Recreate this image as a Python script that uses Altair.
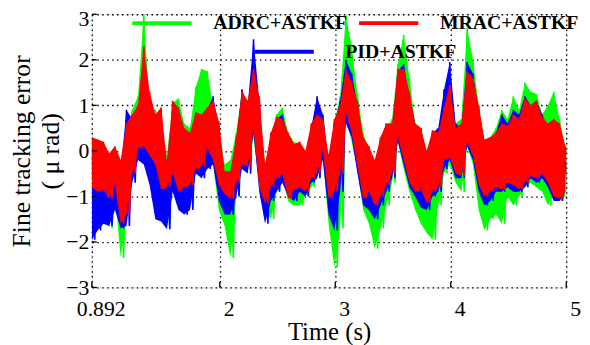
import altair as alt
import pandas as pd

# time bins (s): 0.892 + 0.05*k, k = 0..82 ; each bin gives an upper and a lower reading
t0 = 0.892
step = 0.05

red_hi = [0.3, 0.25, 0.2, -0.05, 0.1, -0.2, 0.6, 0.8, 1.0, 2.3, 1.3, 0.8, 0.95, -0.25, 1.1, 0.95, 0.5, 0.4, 0.85, 0.8,
          0.95, 1.1, 0.65, -0.45, -0.45, 0.3, 1.3, 1.1, 1.8, 1.2, -0.3, 0.4, 0.75, 0.7, 0.4, 0.15, 0.2, 0.0, 0.6, 0.8,
          0.7, -0.1, 0.7, 1.0, 1.8, 1.5, 1.1, 0.3, 0.1, -0.2, 0.3, 0.6, 0.6, 1.8, 1.8, 1.3, 0.6, 0.5, 0.0, 0.45,
          0.4, 0.95, 1.45, 0.5, 0.6, 1.75, 1.6, 1.0, 0.25, 0.3, 0.4, 0.6, 0.55, 0.8, 0.7, 1.15, 1.0, 1.1, 0.75, 0.6,
          0.7, 0.6, 0.1]
red_lo = [-0.8, -0.9, -0.85, -1.05, -0.75, -1.6, -1.4, -0.5, 0.05, 0.1, -0.1, -0.3, -0.85, -0.8, -0.5, -0.9, -0.8, -0.75, -0.4, -0.35,
          0.05, -0.2, -0.75, -0.95, -1.05, -0.7, -0.3, -0.35, 0.5, -0.8, -1.15, -0.8, -0.6, -0.5, -1.05, -0.85, -0.8, -0.9, -0.6, -0.5,
          0.0, -1.05, -0.9, -0.5, 0.85, 0.4, -0.35, -1.05, -0.9, -1.2, -1.0, -0.75, -0.5, 0.3, -0.2, -0.7, -0.9, -0.85, -1.15, -0.9,
          -0.8, -0.2, -0.15, -0.5, -0.55, 0.2, -0.1, -0.75, -1.0, -0.9, -0.8, -0.85, -0.7, -0.75, -0.85, -0.7, -0.55, -0.6, -0.5, -0.7,
          -1.0, -1.05, -0.9]

blue_hi = [-0.1, 0.0, -0.2, -0.3, -0.1, -0.4, 0.9, 0.7, 0.9, 1.9, 1.1, 0.6, 0.7, -0.3, 0.9, 0.8, 0.4, 0.3, 0.8, 0.7,
           0.9, 1.2, 0.5, -0.5, -0.5, 0.2, 1.35, 1.0, 2.45, 1.1, -0.4, 0.3, 0.7, 0.8, 0.3, 0.1, 0.1, -0.1, 0.5, 1.2,
           0.8, -0.2, 0.6, 1.1, 2.0, 1.7, 1.0, 0.2, 0.0, -0.3, 0.2, 0.6, 0.5, 1.75, 1.9, 1.2, 0.6, 0.4, -0.1, 0.4,
           0.5, 1.35, 1.95, 0.6, 0.5, 1.95, 1.7, 0.9, 0.2, 0.25, 0.4, 0.8, 0.6, 0.9, 0.8, 1.2, 1.0, 1.1, 0.8, 0.5,
           0.6, 0.5, -0.2]
blue_lo = [-1.95, -1.75, -1.6, -1.65, -1.3, -1.7, -1.65, -0.7, -0.2, -0.3, -0.75, -1.5, -1.55, -1.72, -0.9, -1.3, -1.4, -1.3, -0.5, -0.6,
           -0.4, -0.3, -1.1, -1.4, -1.4, -1.0, -0.4, -0.5, 0.4, -0.9, -1.6, -1.1, -0.9, -0.7, -1.0, -1.1, -0.9, -1.0, -0.7, -0.6,
           -0.2, -1.4, -1.75, -0.9, 0.6, 0.3, -0.5, -1.2, -1.3, -1.5, -1.2, -0.9, -0.6, 0.2, -0.3, -0.8, -1.0, -1.25, -1.3, -1.0,
           -0.9, -0.4, -0.2, -0.6, -0.6, 0.1, -0.2, -0.9, -1.2, -1.1, -0.9, -0.9, -0.8, -0.9, -0.9, -0.8, -0.6, -0.7, -0.6, -0.8,
           -1.1, -1.1, -0.9]

green_hi = [0.0, 0.1, 0.0, -0.1, 0.0, -0.3, 0.4, 0.9, 1.2, 3.0, 1.0, 0.9, 0.6, -0.1, 1.05, 1.15, 0.6, 0.5, 1.4, 1.8,
            1.75, 1.0, 0.5, -0.3, -0.2, 0.4, 1.3, 1.1, 1.5, 0.9, -0.3, 0.3, 0.8, 0.95, 0.4, 0.2, 0.1, -0.1, 0.5, 1.1,
            0.8, -0.2, 0.6, 1.2, 2.97, 2.3, 1.25, 0.4, 0.0, -0.3, 0.3, 0.5, 0.7, 1.9, 2.55, 1.6, 0.6, 0.5, -0.1, 0.3,
            0.4, 1.0, 1.5, 0.6, 0.7, 2.7, 2.0, 1.0, 0.2, 0.3, 0.5, 0.9, 0.7, 1.2, 0.9, 1.5, 1.3, 1.25, 0.8, 1.0,
            1.3, 0.7, 0.1]
green_lo = [-0.9, -1.0, -1.1, -1.7, -0.9, -2.35, -1.3, -0.4, 0.2, 0.3, 0.0, -0.4, -1.0, -1.6, -0.6, -1.0, -0.9, -0.8, -0.3, 0.0,
            0.2, -0.3, -1.3, -1.65, -2.35, -1.0, -0.3, -0.4, 0.3, -0.7, -1.3, -1.5, -0.9, -0.6, -1.1, -1.2, -1.2, -1.0, -0.8, -0.6,
            -0.1, -1.6, -2.55, -1.7, 0.7, 0.2, -0.4, -1.3, -1.6, -2.15, -1.7, -1.2, -0.7, 0.2, -0.4, -0.9, -1.3, -1.6, -1.8, -1.95,
            -1.2, -0.5, -0.3, -0.7, -0.9, 0.1, -0.3, -1.3, -1.75, -1.5, -1.4, -1.6, -1.0, -1.2, -1.0, -0.8, -0.7, -0.8, -0.9, -1.2,
            -0.9, -1.1, -1.0]

series_names = ["ADRC+ASTKF", "MRAC+ASTKF", "PID+ASTKF"]
series_colors = ["#00FF00", "#FF0000", "#0000FF"]
x_ticks = [0.892, 2, 3, 4, 5]
y_ticks = [-3, -2, -1, 0, 1, 2, 3]


def zigzag(name, hi, lo):
    rows = []
    for k, (h, l) in enumerate(zip(hi, lo)):
        t = t0 + step * k
        rows.append({"t": t, "e": h, "s": name})
        rows.append({"t": t + step / 2, "e": l, "s": name})
    return pd.DataFrame(rows)


def band(name, hi, lo):
    return pd.DataFrame({"t": [t0 + step * k for k in range(len(hi))], "hi": hi, "lo": lo, "s": name})


FONT = "Liberation Serif"

xscale = alt.Scale(domain=[0.892, 5], nice=False, zero=False)
yscale = alt.Scale(domain=[-3, 3], nice=False)
cscale = alt.Scale(domain=series_names[:2], range=series_colors[:2])

xaxis = alt.Axis(values=x_ticks, labelExpr="datum.value == 0.892 ? '0.892' : format(datum.value, 'd')",
                 title="Time (s)", domain=False, ticks=False, grid=True,
                 gridColor="black", gridDash=[1.5, 3.5], gridWidth=1.3, gridOpacity=1,
                 labelFont=FONT, labelFontSize=22, labelColor="black", labelPadding=11, labelOffset=9,
                 labelFlush=False, labelOverlap=False,
                 titleFont=FONT, titleFontSize=25, titleFontWeight="normal", titleColor="black", titlePadding=1)
yaxis = alt.Axis(values=y_ticks, title=["Fine tracking error", "( μ rad)"], domain=False, ticks=False, grid=True,
                 gridColor="black", gridDash=[1.5, 3.5], gridWidth=1.3, gridOpacity=1,
                 labelFont=FONT, labelFontSize=22, labelColor="black", labelPadding=3, labelFlush=False,
                 labelOffset={"condition": {"test": "datum.value == 3", "value": 4}, "value": 0},
                 titleFont=FONT, titleFontSize=26, titleFontWeight="normal", titleColor="black",
                 titlePadding=2, titleLineHeight=30)

leg_common = dict(title=None, orient="none", direction="horizontal",
                  symbolType="M-3,0L3,0", symbolSize=400, symbolStrokeWidth=4,
                  labelFont=FONT, labelFontSize=20, labelFontWeight="bold", labelColor="black",
                  padding=0, symbolOpacity=1, labelLimit=300)
color_legend = alt.Legend(legendX=59, legendY=-3, columns=2, columnPadding=4, labelOffset=40, **leg_common)
pid_legend = alt.Legend(legendX=183, legendY=26, symbolStrokeColor="#0000FF", labelOffset=50, **leg_common)


def layers(name, hi, lo, color):
    zz = zigzag(name, hi, lo)
    bd = band(name, hi, lo)
    x = alt.X("t:Q", scale=xscale, axis=xaxis)
    if name == "PID+ASTKF":
        col = alt.value(color)
        extra = {"strokeDash": alt.StrokeDash("s:N", scale=alt.Scale(domain=["PID+ASTKF"], range=[[1, 0]]),
                                              legend=pid_legend)}
    else:
        col = alt.Color("s:N", scale=cscale, legend=color_legend)
        extra = {}
    area = alt.Chart(bd).mark_area(opacity=1, clip=True, interpolate="linear").encode(
        x=x, y=alt.Y("lo:Q", scale=yscale, axis=yaxis), y2="hi:Q", color=col)
    ln = alt.Chart(zz).mark_line(strokeWidth=1.6, clip=True).encode(
        x=x, y=alt.Y("e:Q", scale=yscale, axis=yaxis), color=col, **extra)
    return [area, ln]


xt_df = pd.DataFrame({"xt": x_ticks})
yt_df = pd.DataFrame({"yt": y_ticks})
xtick_marks = alt.Chart(xt_df).mark_rule(color="black", strokeWidth=1.3).encode(
    x=alt.X("xt:Q", scale=xscale), y=alt.datum(-3), y2=alt.datum(-2.88))
ytick_marks = alt.Chart(yt_df).mark_rule(color="black", strokeWidth=1.3).encode(
    y=alt.Y("yt:Q", scale=yscale), x=alt.datum(0.892), x2=alt.datum(0.935))

parts = (layers("ADRC+ASTKF", green_hi, green_lo, "#00FF00")
         + layers("PID+ASTKF", blue_hi, blue_lo, "#0000FF")
         + layers("MRAC+ASTKF", red_hi, red_lo, "#FF0000"))

chart = alt.layer(*parts, xtick_marks, ytick_marks).properties(
    width=481, height=277,
    autosize=alt.AutoSizeParams(type="none"),
    padding={"left": 85, "top": 4, "right": 16, "bottom": 56},
).configure_view(stroke=None).configure(background="white")

chart.save("out.html", embed_options={"renderer": "svg", "actions": False})
